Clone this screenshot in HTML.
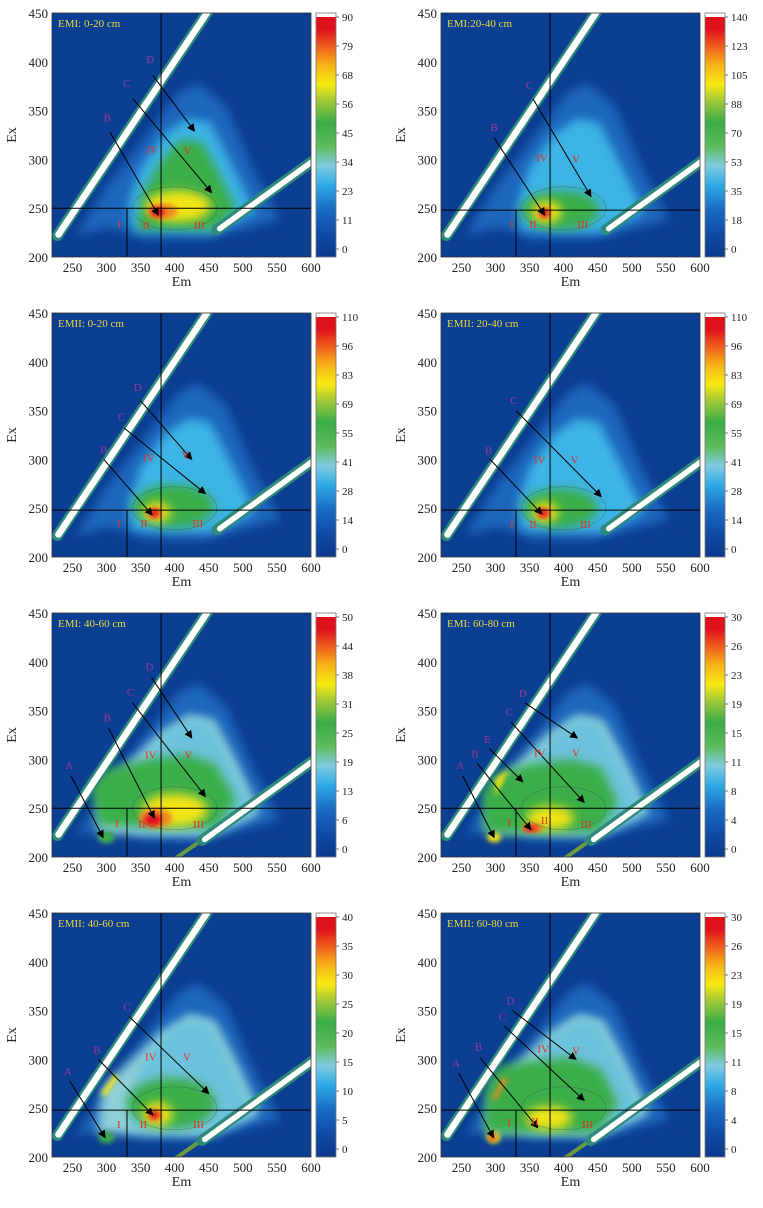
<!DOCTYPE html>
<html><head><meta charset="utf-8">
<style>
html,body{margin:0;padding:0;background:#fff;}
svg text{font-family:"Liberation Serif",serif;}
</style></head>
<body>
<svg id="s" width="763" height="1203" xmlns="http://www.w3.org/2000/svg"></svg>
<script>
const S=document.getElementById('s');
let out='<defs><linearGradient id="cb" x1="0" y1="1" x2="0" y2="0">'+
'<stop offset="0" stop-color="#0b3a8c"/><stop offset=".1" stop-color="#0f4ca6"/><stop offset=".2" stop-color="#1a6cc4"/>'+
'<stop offset=".3" stop-color="#2faae6"/><stop offset=".38" stop-color="#80cce0"/><stop offset=".46" stop-color="#5dbb5c"/>'+
'<stop offset=".56" stop-color="#3aad46"/><stop offset=".65" stop-color="#a0c838"/><stop offset=".72" stop-color="#f6ea10"/>'+
'<stop offset=".8" stop-color="#f7b21a"/><stop offset=".88" stop-color="#ee5a1c"/><stop offset=".95" stop-color="#e0101c"/><stop offset="1" stop-color="#e0101c"/></linearGradient>'+
'<filter id="b6" x="-50%" y="-50%" width="200%" height="200%"><feGaussianBlur stdDeviation="5"/></filter>'+
'<filter id="b3" x="-50%" y="-50%" width="200%" height="200%"><feGaussianBlur stdDeviation="2.5"/></filter>'+
'<marker id="ar" markerWidth="8" markerHeight="8" refX="7" refY="4" orient="auto" markerUnits="userSpaceOnUse"><path d="M0,0 L8,4 L0,8 z" fill="#000"/></marker>'+
'</defs>';
const W=259,H=244;
const C={db:'#1d6ec6',cy:'#3cb4e6',lt:'#8fd0d8',gr:'#3aae4a',lg:'#8cc43c',ye:'#f2e418',or:'#f08a20',re:'#e01020'};
const panels=[
{x:52,y:13,t:'EMI: 0-20 cm',ticks:[90,79,68,56,45,34,23,11,0],h:250,
 lab:[['B',301,339,305,328,376,243],['C',330,374,339,362,454,266],['D',364,399,368,386,429,329]],
 rom:[['IV',367,310],['V',419,309],['I',319,234],['II',358,233],['III',436,233]],
 blobs:[['p',[[345,228],[460,228],[490,250],[462,290],[440,318],[408,320],[380,298],[350,262]],C.gr,6],
 ['e',405,252,48,16,C.ye,5],['e',382,247,22,8,C.or,4],['e',375,246,10,5,C.re,3]]},
{x:441,y:13,t:'EMI:20-40 cm',ticks:[140,123,105,88,70,53,35,18,0],h:248,
 lab:[['B',298,329,298,322,372,243],['C',350,372,355,362,440,262]],
 rom:[['IV',368,302],['V',418,301],['I',324,234],['II',355,234],['III',428,234]],
 blobs:[['e',395,248,58,20,C.gr,6],['e',375,246,22,11,C.ye,5],['e',372,245,10,6,C.or,3],['e',372,245,6,4,C.re,2]]},
{x:52,y:313,t:'EMII: 0-20 cm',ticks:[110,96,83,69,55,41,28,14,0],h:248,
 lab:[['B',296,306,296,300,367,243],['C',322,340,326,332,445,265],['D',346,370,350,360,425,300]],
 rom:[['IV',362,302],['V',416,305],['I',318,235],['II',355,235],['III',434,235]],
 blobs:[['e',398,252,60,22,C.gr,6],['e',374,246,20,10,C.ye,5],['e',371,245,11,6,C.or,3],['e',370,245,7,4,C.re,2]]},
{x:441,y:313,t:'EMII: 20-40 cm',ticks:[110,96,83,69,55,41,28,14,0],h:248,
 lab:[['B',290,305,292,300,368,244],['C',327,357,330,350,455,262]],
 rom:[['IV',365,300],['V',416,300],['I',324,234],['II',355,234],['III',432,234]],
 blobs:[['e',395,250,55,20,C.gr,6],['e',373,246,19,10,C.ye,5],['e',371,245,10,6,C.or,3],['e',370,245,7,4,C.re,2]]},
{x:52,y:613,t:'EMI: 40-60 cm',ticks:[50,44,38,31,25,19,13,6,0],h:250,big:1,
 lab:[['A',245,290,248,283,295,220],['B',301,339,303,332,370,240],['C',335,365,338,358,445,262],['D',363,391,366,384,425,322]],
 rom:[['IV',365,305],['V',420,305],['I',315,235],['II',352,234],['III',435,234]],
 blobs:[['p',[[290,232],[460,230],[490,258],[460,295],[420,305],[360,300],[300,290],[275,275]],C.gr,6],
 ['e',300,220,12,6,C.gr,3],['e',400,248,48,17,C.ye,6],['e',372,240,24,10,C.or,4],['e',368,238,13,6,C.re,3]]},
{x:441,y:613,t:'EMI: 60-80 cm',ticks:[30,26,23,19,15,11,8,4,0],h:250,big:1,
 lab:[['A',248,290,252,283,298,220],['B',270,302,273,296,352,228],['E',288,317,291,311,340,277],['C',320,345,323,338,430,256],['D',340,364,343,358,420,322]],
 rom:[['IV',365,307],['V',418,307],['I',320,236],['II',372,238],['III',433,234]],
 blobs:[['p',[[285,225],[450,225],[480,255],[455,292],[410,300],[350,295],[300,285],[280,265]],C.gr,6],
 ['p',[[300,262],[320,290],[330,295],[300,280]],C.ye,2],
 ['e',298,220,10,5,C.ye,3],['e',380,240,35,12,C.ye,5],['e',355,230,16,5,C.or,3],['e',352,229,10,3,C.re,2]]},
{x:52,y:913,t:'EMII: 40-60 cm',ticks:[40,35,30,25,20,15,10,5,0],h:248,big:1,
 lab:[['A',243,284,246,278,298,220],['B',286,306,288,300,368,243],['C',330,350,333,344,450,265]],
 rom:[['IV',365,303],['V',418,303],['I',318,234],['II',354,234],['III',435,234]],
 blobs:[['e',395,255,65,26,C.gr,6],['p',[[292,265],[312,285],[318,282],[298,262]],C.ye,2],
 ['e',300,220,11,6,C.gr,3],['e',375,244,22,12,C.ye,5],['e',371,243,11,6,C.or,3],['e',370,243,7,4,C.re,2]]},
{x:441,y:913,t:'EMII: 60-80 cm',ticks:[30,26,23,19,15,11,8,4,0],h:248,big:1,
 lab:[['A',242,292,246,286,297,220],['B',275,309,277,302,362,230],['C',310,340,313,334,430,258],['D',322,356,325,350,418,300]],
 rom:[['IV',370,311],['V',418,309],['I',320,236],['II',358,237],['III',435,234]],
 blobs:[['p',[[285,225],[450,225],[480,255],[455,290],[410,302],[350,298],[300,292],[285,268]],C.gr,6],
 ['p',[[295,260],[312,282],[318,280],[300,258]],C.or,2],
 ['e',297,220,10,6,C.ye,3],['e',296,220,5,3,C.re,2],['e',378,240,34,12,C.ye,5]]}
];
function X(p,em){return p.x+(em-220)*W/380;}
function Y(p,ex){return p.y+(450-ex)*H/250;}
panels.forEach((p,i)=>{
 const cid='c'+i;
 out+=`<clipPath id="${cid}"><rect x="${p.x}" y="${p.y}" width="${W}" height="${H}"/></clipPath>`;
 out+=`<g clip-path="url(#${cid})"><rect x="${p.x}" y="${p.y}" width="${W}" height="${H}" fill="#0c3e92"/>`;
 const poly=(pts,fill,bl)=>`<polygon points="${pts.map(q=>X(p,q[0]).toFixed(1)+','+Y(p,q[1]).toFixed(1)).join(' ')}" fill="${fill}" filter="url(#b${bl>4?6:3})"/>`;
 out+=poly([[255,222],[300,230],[330,226],[350,218],[440,218],[555,238],[515,290],[475,355],[435,378],[405,368],[345,312],[300,272]],'#1c66bc',6);
 if(p.big) out+=poly([[285,224],[450,222],[525,245],[490,298],[458,340],[422,346],[375,325],[335,298],[295,272]],C.lt,6);
 out+=poly([[338,228],[455,225],[518,246],[480,300],[452,338],[420,342],[385,326],[350,292],[332,254]],p.big?'#6cc2dc':C.cy,6);
 p.blobs.forEach(b=>{
  if(b[0]=='p') out+=poly(b[1],b[2],b[3]);
  else out+=`<ellipse cx="${X(p,b[1])}" cy="${Y(p,b[2])}" rx="${b[3]*W/380}" ry="${b[4]*H/250}" fill="${b[5]}" filter="url(#b${b[6]>4?6:3})"/>`;
 });
 out+=`<ellipse cx="${X(p,400)}" cy="${Y(p,250)}" rx="${62*W/380}" ry="${22*H/250}" fill="none" stroke="#2d5a50" stroke-opacity=".45" stroke-width=".7"/>`;
 // rayleigh first order
 const r1=[X(p,228),Y(p,222),X(p,238+0.96*(470-232)),Y(p,470)];
 out+=`<line x1="${r1[0]}" y1="${r1[1]}" x2="${r1[2]}" y2="${r1[3]}" stroke="#2e8a7a" stroke-width="11" stroke-linecap="round"/>`;
 out+=`<line x1="${r1[0]+1}" y1="${r1[1]-1}" x2="${r1[2]}" y2="${r1[3]}" stroke="#fff" stroke-width="6.5" stroke-linecap="round"/>`;
 // second order
 if(p.big){out+=`<line x1="${X(p,400)}" y1="${Y(p,198)}" x2="${X(p,445)}" y2="${Y(p,220)}" stroke="#6a9a40" stroke-width="4"/>`;}
 const s0=p.big?440:462;
 out+=`<line x1="${X(p,s0)}" y1="${Y(p,s0/2-3)}" x2="${X(p,620)}" y2="${Y(p,307)}" stroke="#2e8a7a" stroke-width="11" stroke-linecap="round"/>`;
 out+=`<line x1="${X(p,s0+4)}" y1="${Y(p,s0/2-2)}" x2="${X(p,620)}" y2="${Y(p,307)}" stroke="#fff" stroke-width="5.5" stroke-linecap="round"/>`;
 // crosshair
 out+=`<line x1="${X(p,380)}" y1="${p.y}" x2="${X(p,380)}" y2="${p.y+H}" stroke="#000" stroke-width="1"/>`;
 out+=`<line x1="${p.x}" y1="${Y(p,p.h)}" x2="${p.x+W}" y2="${Y(p,p.h)}" stroke="#000" stroke-width="1"/>`;
 out+=`<line x1="${X(p,330)}" y1="${Y(p,p.h)}" x2="${X(p,330)}" y2="${p.y+H}" stroke="#000" stroke-width="1"/>`;
 p.lab.forEach(l=>{
  out+=`<text x="${X(p,l[1])}" y="${Y(p,l[2])}" font-size="11" fill="#9a3a9a" text-anchor="middle">${l[0]}</text>`;
  out+=`<line x1="${X(p,l[3])}" y1="${Y(p,l[4])}" x2="${X(p,l[5])}" y2="${Y(p,l[6])}" stroke="#000" stroke-width="1" marker-end="url(#ar)"/>`;
 });
 p.rom.forEach(r=>{out+=`<text x="${X(p,r[1])}" y="${Y(p,r[2])+4}" font-size="11" fill="#e83020" text-anchor="middle">${r[0]}</text>`;});
 out+=`<text x="${p.x+6}" y="${p.y+14}" font-size="11" fill="#e8d840">${p.t}</text>`;
 out+='</g>';
 out+=`<rect x="${p.x}" y="${p.y}" width="${W}" height="${H}" fill="none" stroke="#333" stroke-width=".8"/>`;
 for(let em=250;em<=600;em+=50) out+=`<text x="${X(p,em)}" y="${p.y+H+15}" font-size="13" fill="#222" text-anchor="middle">${em}</text>`;
 for(let ex=200;ex<=450;ex+=50) out+=`<text x="${p.x-4}" y="${Y(p,ex)+5}" font-size="13" fill="#222" text-anchor="end">${ex}</text>`;
 out+=`<text x="${p.x+W/2}" y="${p.y+H+29}" font-size="14" fill="#222" text-anchor="middle">Em</text>`;
 out+=`<text transform="translate(${p.x-36},${p.y+H/2}) rotate(-90)" font-size="14" fill="#222" text-anchor="middle">Ex</text>`;
 const cx=p.x+W+5,cw=20;
 out+=`<rect x="${cx}" y="${p.y+4}" width="${cw}" height="${H-4}" fill="url(#cb)"/>`;
 out+=`<rect x="${cx}" y="${p.y}" width="${cw}" height="${H}" fill="none" stroke="#777" stroke-width=".8"/>`;
 p.ticks.forEach((t,k)=>{
  const ty=p.y+4+k*(H-12)/8;
  out+=`<line x1="${cx+cw}" y1="${ty}" x2="${cx+cw+3}" y2="${ty}" stroke="#777"/>`;
  out+=`<text x="${cx+cw+6}" y="${ty+4}" font-size="11" fill="#222">${t}</text>`;
 });
});
S.innerHTML=out;
</script>
</body></html>
